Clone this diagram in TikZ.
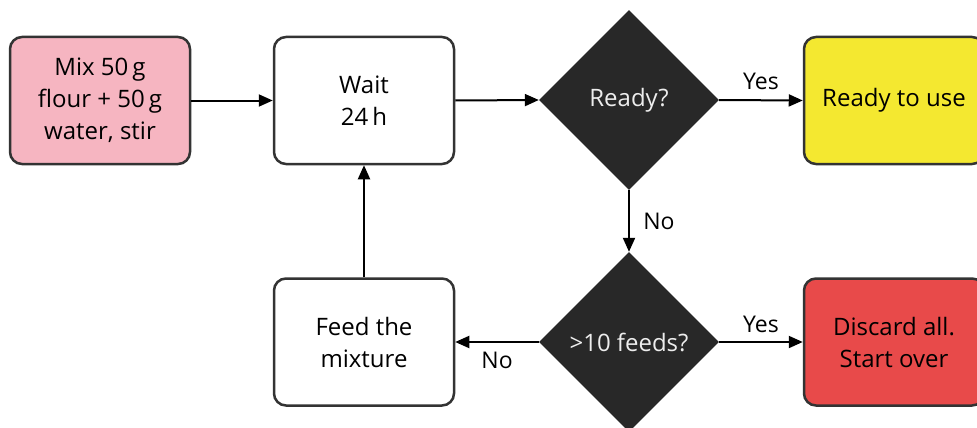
\documentclass[tikz,border=0pt]{standalone}
\usepackage{fontspec}
\setmainfont{Open Sans}
\usetikzlibrary{arrows.meta,shapes.geometric}
\definecolor{pinkf}{HTML}{F6B5C1}
\definecolor{yellowf}{HTML}{F4E830}
\definecolor{redf}{HTML}{E84A4A}
\definecolor{darkf}{HTML}{282828}
\definecolor{edge}{HTML}{333333}
\begin{document}
\begin{tikzpicture}[x=1pt,y=-1pt,
  font=\fontsize{24}{32}\selectfont,
  procbox/.style={draw=edge, line width=2.5pt, rounded corners=12pt, minimum width=180pt, minimum height=127pt, align=center, inner sep=0pt},
  decbox/.style={diamond, fill=darkf, draw=none, minimum width=180pt, minimum height=180pt, inner sep=0pt, text=white!93!black, align=center},
  conn/.style={draw=black, line width=2pt, -{Triangle[length=14pt,width=12pt]}},
  lbl/.style={font=\fontsize{23}{26}\selectfont}
]
\useasboundingbox (0,0) rectangle (977,428);
\node[procbox, fill=pinkf] (mix) at (100,100.5) {Mix 50\,g\\flour + 50\,g\\water, stir};
\node[procbox, fill=white] (wait) at (364,100.5) {Wait\\24\,h};
\node[decbox] (ready) at (629,100) {Ready?};
\node[procbox, fill=yellowf] (use) at (894,100.5) {Ready to use};
\node[decbox] (feeds) at (629,342) {>10 feeds?};
\node[procbox, fill=white] (feed) at (364,342) {Feed the\\mixture};
\node[procbox, fill=redf] (discard) at (894,342) {Discard all.\\Start over};
\draw[conn] (mix.east) -- (wait.west);
\draw[conn] (wait.east) -- (ready.west);
\draw[conn] (ready.east) -- node[lbl, above=6pt] {Yes} (use.west);
\draw[conn] (ready.south) -- node[lbl, right=10pt] {No} (feeds.north);
\draw[conn] (feeds.east) -- node[lbl, above=5pt] {Yes} (discard.west);
\draw[conn] (feeds.west) -- node[lbl, below=6pt] {No} (feed.east);
\draw[conn] (feed.north) -- (wait.south);
\end{tikzpicture}
\end{document}
